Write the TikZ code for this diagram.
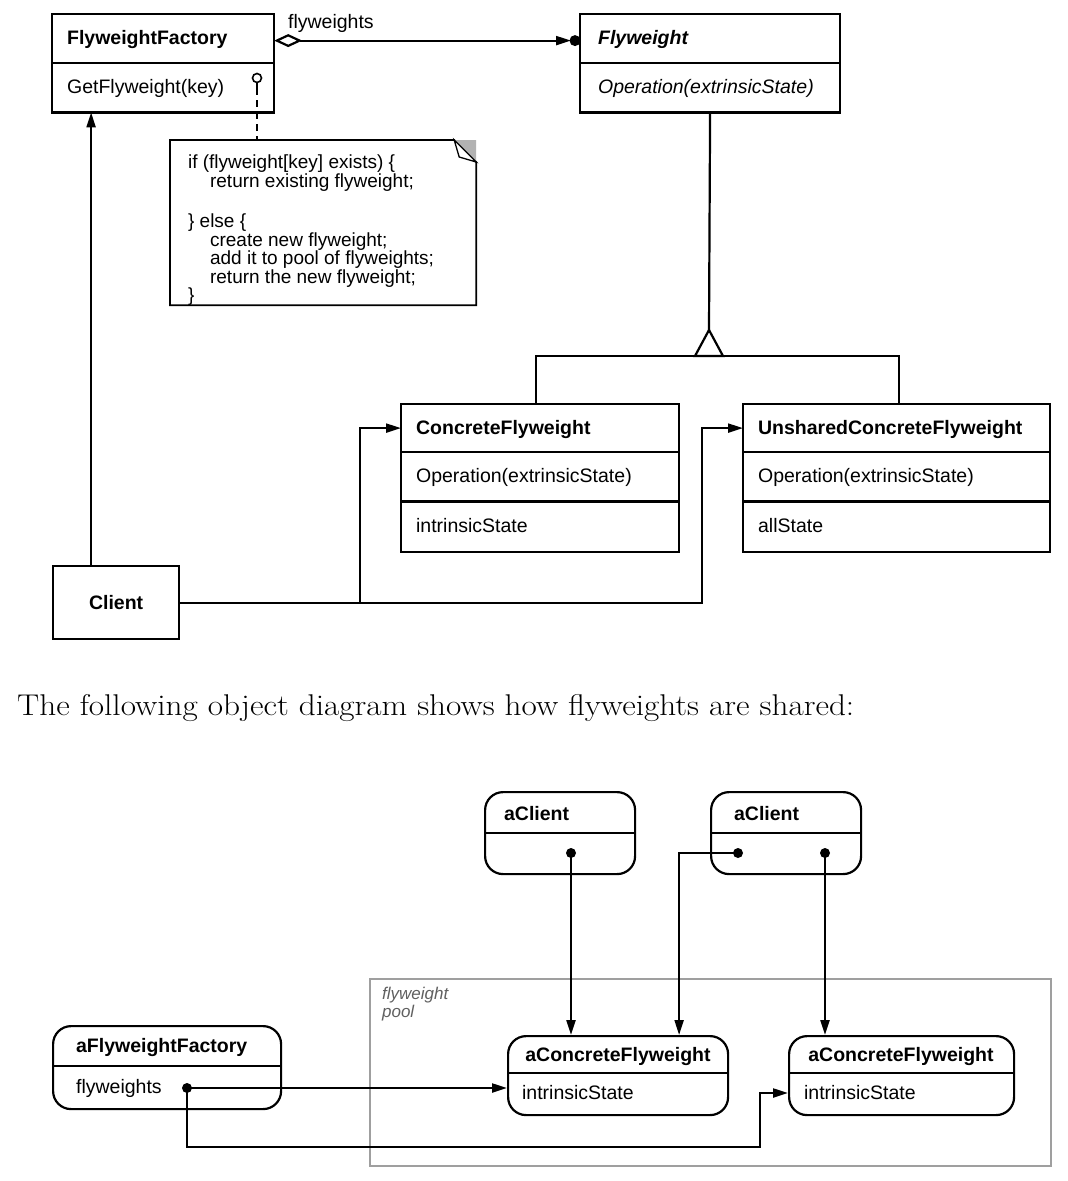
\documentclass[tikz,border=0pt]{standalone}
\usepackage{fontspec}
\newfontfamily\hv{Liberation Sans}
\usetikzlibrary{arrows.meta}
\newcommand\umlf{\hv\fontsize{19.5pt}{22pt}\selectfont}
\newcommand\umlb{\hv\fontsize{19.5pt}{22pt}\selectfont\bfseries}
\begin{document}
\begin{tikzpicture}[x=1pt,y=-1pt,line width=2.2pt,
  cbox/.style 2 args={anchor=north west, minimum width=#1, minimum height=#2, inner sep=0pt},
  obj/.style 2 args={draw, rounded corners=18pt, anchor=north west, minimum width=#1, minimum height=#2, inner sep=0pt},
  lbl/.style={anchor=west, inner sep=0pt, font=\umlf, text height=13pt, text depth=1pt},
  blbl/.style={lbl, font=\umlb},
  tri/.style={-{Triangle[length=15pt,width=9pt]}},
  dot/.style={circle, fill, inner sep=0pt, minimum size=10pt}]
\useasboundingbox (0,0) rectangle (1068,1181);
\fill[white] (0,0) rectangle (1068,1181);

% ---------- class diagram ----------
\node[cbox={220pt}{47pt}] (ffT) at (52,14) {};
\node[cbox={220pt}{47pt}] (ffB) at (ffT.south west) {};
\draw (ffT.north west) rectangle (ffB.south east);
\draw (ffB.north west) -- (ffB.north east);
\node[blbl] (ffTt) at ([xshift=14pt]ffT.west) {FlyweightFactory};
\node[lbl] (ffBt) at ([xshift=14pt]ffB.west) {GetFlyweight(key)};

\node[cbox={258pt}{47pt}] (fwT) at (580,14) {};
\node[cbox={258pt}{47pt}] (fwB) at (fwT.south west) {};
\draw (fwT.north west) rectangle (fwB.south east);
\draw (fwB.north west) -- (fwB.north east);
\node[blbl, font=\umlb\itshape] (fwTt) at ([xshift=17pt]fwT.west) {Flyweight};
\node[lbl, font=\umlf\itshape] (fwBt) at ([xshift=17pt]fwB.west) {Operation(extrinsicState)};

\draw[{Diamond[open,length=28pt,width=13pt]}-{Triangle[length=15pt,width=9pt]}, shorten >=9pt] ([yshift=-2pt]ffT.east) -- ([yshift=-2pt]fwT.west);
\fill ([xshift=-5pt,yshift=-2pt]fwT.west) circle (5.5pt);
\node[lbl, font=\umlf] (aggl) at (287,22) {flyweights};

\node[cbox={276pt}{46pt}] (cfT) at (401,404) {};
\node[cbox={276pt}{47pt}] (cfO) at (cfT.south west) {};
\node[cbox={276pt}{48pt}] (cfS) at (cfO.south west) {};
\draw (cfT.north west) rectangle (cfS.south east);
\draw (cfO.north west) -- (cfO.north east);
\draw (cfS.north west) -- (cfS.north east);
\node[blbl] at ([xshift=14pt]cfT.west) {ConcreteFlyweight};
\node[lbl] at ([xshift=14pt]cfO.west) {Operation(extrinsicState)};
\node[lbl] at ([xshift=14pt]cfS.west) {intrinsicState};

\node[cbox={305pt}{46pt}] (ucT) at (743,404) {};
\node[cbox={305pt}{47pt}] (ucO) at (ucT.south west) {};
\node[cbox={305pt}{48pt}] (ucS) at (ucO.south west) {};
\draw (ucT.north west) rectangle (ucS.south east);
\draw (ucO.north west) -- (ucO.north east);
\draw (ucS.north west) -- (ucS.north east);
\node[blbl] at ([xshift=14pt]ucT.west) {UnsharedConcreteFlyweight};
\node[lbl] at ([xshift=14pt]ucO.west) {Operation(extrinsicState)};
\node[lbl] at ([xshift=14pt]ucS.west) {allState};

% inheritance
\coordinate (apex) at (709,330);
\coordinate (tbase) at (709,356);
\draw (fwB.south) -- (apex);
\draw[line join=miter] (apex) -- (695,356) -- (723,356) -- cycle;
\draw ([xshift=-4pt]cfT.north) -- ([xshift=-4pt]cfT.north |- tbase) -- ([xshift=2pt]ucT.north |- tbase) -- ([xshift=2pt]ucT.north);

% client
\node[draw, cbox={126pt}{73pt}, font=\umlb] (cl) at (52,565) {Client};
\draw[tri] ([xshift=-25pt]cl.north) -- ([xshift=-25pt]cl.north |- ffB.south);
\coordinate (j1) at (cl.east -| 360,0);
\coordinate (j2) at (cl.east -| 702,0);
\draw[tri] (cl.east) -- (j1) |- (cfT.west);
\draw[tri] (j1) -- (j2) |- (ucT.west);

% note
\node[circle, draw, line width=1.6pt, minimum size=9pt, inner sep=0pt] (nc) at (257,78) {};
\coordinate (nstem) at (257,88);
\node[anchor=north west, minimum width=304pt, minimum height=163pt, inner sep=0pt] (note) at (170,140) {};
\draw[line width=1.6pt] (nc.south) -- (nstem);
\draw[line width=2pt, dash pattern=on 7pt off 5pt] (nstem) -- (nstem |- note.north);
\draw[line width=1.8pt] (note.north west) -- ([xshift=-22pt]note.north east) -- ([yshift=-22pt]note.north east) -- (note.south east) -- (note.south west) -- cycle;
\fill[gray!60] ([xshift=-22pt]note.north east) -- (note.north east) -- ([yshift=-22pt]note.north east) -- cycle;
\draw[line width=1.3pt, fill=white] ([xshift=-22pt]note.north east) -- ([xshift=-17pt,yshift=-17pt]note.north east) -- ([yshift=-22pt]note.north east) -- cycle;
\node[anchor=north west, inner sep=0pt, align=left, font={\hv\fontsize{19pt}{18.5pt}\selectfont}] (ntext) at (187,154) {if (flyweight[key] exists) \{\\
\hspace*{22pt}return existing flyweight;\\[22pt]
\} else \{\\
\hspace*{22pt}create new flyweight;\\
\hspace*{22pt}add it to pool of flyweights;\\
\hspace*{22pt}return the new flyweight;\\
\}};

% ---------- caption ----------
\node[anchor=west, inner sep=0pt, font=\fontsize{30pt}{34pt}\selectfont] (cap) at (16,708) {\scalebox{1.107}[1]{The following object diagram shows how flyweights are shared:}};

% ---------- object diagram ----------
\node[draw=gray!75, line width=1.5pt, anchor=north west, minimum width=681pt, minimum height=187pt, inner sep=0pt] (pool) at (369,978) {};
\node[anchor=north west, inner sep=0pt, align=left, text=gray!75!black, font={\hv\itshape\fontsize{17pt}{18pt}\selectfont}] (pooll) at (381,986) {flyweight\\pool};

\node[obj={150pt}{82pt}] (c1) at (484,791) {};
\draw (c1.west |- 0,833) -- (c1.east |- 0,833);
\node[blbl] at (503,814) {aClient};
\node[dot] (c1d) at (571,853) {};

\node[obj={150pt}{82pt}] (c2) at (710,791) {};
\draw (c2.west |- 0,833) -- (c2.east |- 0,833);
\node[blbl] at (733,814) {aClient};
\node[dot] (c2a) at (738,853) {};
\node[dot] (c2b) at (825,853) {};

\node[obj={228pt}{83pt}] (aff) at (52,1025) {};
\draw (aff.west |- 0,1066) -- (aff.east |- 0,1066);
\node[blbl] at (75,1046) {aFlyweightFactory};
\node[lbl] at (75,1087) {flyweights};
\node[dot] (affd) at (187,1088) {};

\node[obj={220pt}{79pt}] (cf1) at (507,1035) {};
\draw (cf1.west |- 0,1073) -- (cf1.east |- 0,1073);
\node[blbl, anchor=center] at (618,1055) {aConcreteFlyweight};
\node[lbl] at (521,1093) {intrinsicState};

\node[obj={225pt}{79pt}] (cf2) at (788,1035) {};
\draw (cf2.west |- 0,1073) -- (cf2.east |- 0,1073);
\node[blbl, anchor=center] at (901,1055) {aConcreteFlyweight};
\node[lbl] at (803,1093) {intrinsicState};

\draw[tri] (c1d.center) -- (c1d.center |- cf1.north);
\draw[tri] (c2a.center) -| ([xshift=61pt]cf1.north);
\draw[tri] (c2b.center) -- (c2b.center |- cf2.north);
\draw[tri] (affd.center) -- (cf1.west |- affd.center);
\coordinate (bturn) at (760,1147);
\draw[tri] (affd.center) |- (bturn) |- (cf2.west |- 0,1093);
\end{tikzpicture}
\end{document}
